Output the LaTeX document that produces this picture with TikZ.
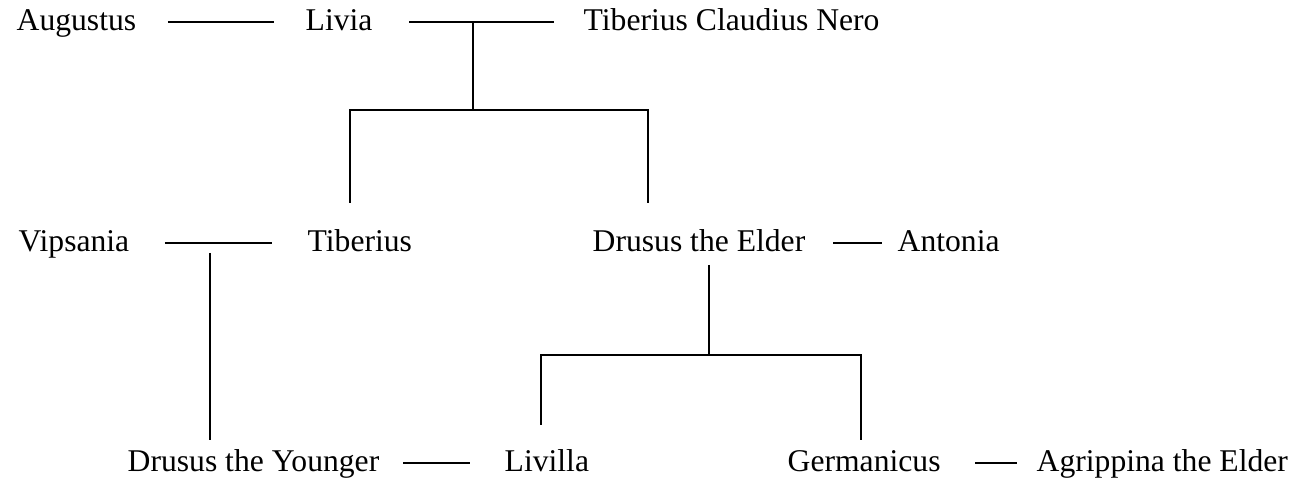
\documentclass[tikz,border=0pt]{standalone}
\usepackage{fontspec}
\setmainfont{Liberation Serif}
\usetikzlibrary{calc, positioning}

\tikzset{
  person/.style={inner sep=0pt, anchor=west, text height=0.7em, text depth=0.22em,
    font=\fontsize{9}{11}\selectfont},
  link/.style={line width=0.6pt},
}

\begin{document}
\begin{tikzpicture}
  \useasboundingbox (0,0) rectangle (13.02,-4.80);

  % first generation
  \node[person] (augustus) at (0.16,-0.22) {Augustus};
  \node[person] (livia) at (3.05,-0.22) {Livia};
  \node[person] (nero) at (5.83,-0.22) {Tiberius Claudius Nero};

  % second generation
  \node[person] (vipsania) at (0.18,-2.43) {Vipsania};
  \node[person] (tiberius) at (3.07,-2.43) {Tiberius};
  \node[person] (drususE) at (5.92,-2.43) {Drusus the Elder};
  \node[person] (antonia) at (8.97,-2.43) {Antonia};

  % third generation
  \node[person] (drususY) at (1.27,-4.63) {Drusus the Younger};
  \node[person] (livilla) at (5.04,-4.63) {Livilla};
  \node[person] (germanicus) at (7.87,-4.63) {Germanicus};
  \node[person] (agrippina) at (10.36,-4.63) {Agrippina the Elder};

  % marriages
  \draw[link, shorten <=0.31cm, shorten >=0.31cm] (augustus) -- (livia);
  \draw[link, shorten <=0.36cm, shorten >=0.29cm] (livia) -- (nero);
  \draw[link, shorten <=0.35cm, shorten >=0.35cm] (vipsania) -- (tiberius);
  \draw[link, shorten <=0.27cm, shorten >=0.15cm] (drususE) -- (antonia);
  \draw[link, shorten <=0.23cm, shorten >=0.34cm] (drususY) -- (livilla);
  \draw[link, shorten <=0.34cm, shorten >=0.19cm] (germanicus) -- (agrippina);

  % children
  \coordinate (ln) at (4.73,-0.22);
  \coordinate (tt) at (3.50,-2.03);
  \coordinate (dt) at (6.48,-2.03);
  \draw[link] (ln) -- ++(0,-0.88) -| (tt);
  \draw[link] (ln) ++(0,-0.88) -| (dt);

  \coordinate (vt) at (2.10,-2.53);
  \coordinate (yt) at (2.10,-4.40);
  \draw[link] (vt) -- (yt);

  \coordinate (de) at (7.09,-2.65);
  \coordinate (lv) at (5.41,-4.25);
  \coordinate (gm) at (8.61,-4.40);
  \draw[link] (de) -- ++(0,-0.90) -| (lv);
  \draw[link] (de) ++(0,-0.90) -| (gm);
\end{tikzpicture}
\end{document}
